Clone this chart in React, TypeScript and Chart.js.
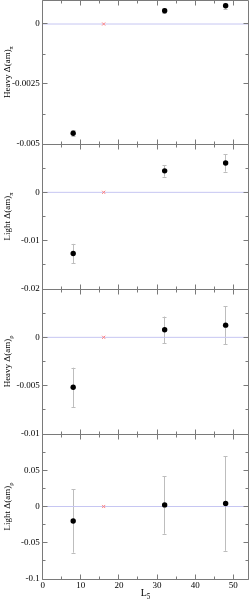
import React, { useEffect, useRef } from 'react';
import { Chart, registerables } from 'chart.js';

Chart.register(...registerables);

// ---------------- data ----------------
const lsValues = [8, 32, 48];
const referenceLs = [16];
const referenceValue = [0];

const heavyPiValues = [-0.00455, 0.00055, 0.00076];
const heavyPiErrors = [0.00012, 0.0001, 0.00012];

const lightPiValues = [-0.01267, 0.00444, 0.00608];
const lightPiErrors = [0.002, 0.0012, 0.0018];

const heavyRhoValues = [-0.00517, 0.00078, 0.00126];
const heavyRhoErrors = [0.00203, 0.00137, 0.00198];

const lightRhoValues = [-0.02, 0.0022, 0.0042];
const lightRhoErrors = [0.0437, 0.0398, 0.0653];

const xRange = [0, 54];
const xMajorTicks = [0, 10, 20, 30, 40, 50];
const xMinorTicks = [5, 15, 25, 35, 45];

const xTitleMain = 'L';
const xTitleSub = '5';

const panelDefs = [
  { titleMain: 'Heavy Δ(am)', titleSub: 'π', values: heavyPiValues, errors: heavyPiErrors, min: -0.005, max: 0.001, step: 0.0025 },
  { titleMain: 'Light Δ(am)', titleSub: 'π', values: lightPiValues, errors: lightPiErrors, min: -0.02, max: 0.01, step: 0.01 },
  { titleMain: 'Heavy Δ(am)', titleSub: 'ρ', values: heavyRhoValues, errors: heavyRhoErrors, min: -0.01, max: 0.005, step: 0.005 },
  { titleMain: 'Light Δ(am)', titleSub: 'ρ', values: lightRhoValues, errors: lightRhoErrors, min: -0.1, max: 0.1, step: 0.05 },
];

// ---------------- layout / style ----------------
const W = 249;
const H = 601;
const PLOT_LEFT = 42.7;
const PLOT_RIGHT = 248.5;
const PANEL_EDGES = [-1, 144, 289, 434, 579];
const X_AXIS_SPACE = 22;
const FONT = 'Liberation Serif';
const FRAME_COLOR = '#7a7a7a';
const ERR_COLOR = '#bdbdbd';
const ZERO_COLOR = '#c6c6f2';
const REF_COLOR = '#ff8080';

const fmt = (v: number) => String(Math.round(v * 1e6) / 1e6);

function drawSubText(ctx: CanvasRenderingContext2D, main: string, sub: string, cx: number, baseline: number, size: number) {
  ctx.font = `${size}px "${FONT}"`;
  const wMain = ctx.measureText(main).width;
  ctx.font = `${size * 0.72}px "${FONT}"`;
  const wSub = ctx.measureText(sub).width;
  const start = cx - (wMain + wSub) / 2;
  ctx.textAlign = 'left';
  ctx.textBaseline = 'alphabetic';
  ctx.fillStyle = '#000';
  ctx.font = `${size}px "${FONT}"`;
  ctx.fillText(main, start, baseline);
  ctx.font = `${size * 0.72}px "${FONT}"`;
  ctx.fillText(sub, start + wMain, baseline + size * 0.28);
}

function Panel({ index }: { index: number }) {
  const ref = useRef<HTMLCanvasElement | null>(null);
  useEffect(() => {
    const canvas = ref.current;
    if (!canvas) return;
    const def = panelDefs[index];
    const isLast = index === panelDefs.length - 1;
    const top = PANEL_EDGES[index];
    const bottom = PANEL_EDGES[index + 1];

    const decor = {
      id: 'decor' + index,
      beforeDatasetsDraw(chart: any) {
        const ctx = chart.ctx as CanvasRenderingContext2D;
        const xs = chart.scales.x;
        const ys = chart.scales.y;
        ctx.save();
        ctx.strokeStyle = ERR_COLOR;
        ctx.lineWidth = 1;
        lsValues.forEach((L, k) => {
          const px = Math.floor(xs.getPixelForValue(L)) + 0.5;
          const y1 = ys.getPixelForValue(def.values[k] + def.errors[k]);
          const y2 = ys.getPixelForValue(def.values[k] - def.errors[k]);
          ctx.beginPath();
          ctx.moveTo(px, y1);
          ctx.lineTo(px, y2);
          ctx.moveTo(px - 2, Math.round(y1) + 0.5);
          ctx.lineTo(px + 2, Math.round(y1) + 0.5);
          ctx.moveTo(px - 2, Math.round(y2) + 0.5);
          ctx.lineTo(px + 2, Math.round(y2) + 0.5);
          ctx.stroke();
        });
        ctx.restore();
      },
      afterDraw(chart: any) {
        const ctx = chart.ctx as CanvasRenderingContext2D;
        const { left, right, top: t, bottom: b } = chart.chartArea;
        const xs = chart.scales.x;
        const ys = chart.scales.y;
        const L = Math.floor(left) + 0.5;
        const R = Math.floor(right) + 0.5;
        const T = Math.floor(t) + 0.5;
        const B = Math.floor(b) + 0.5;
        ctx.save();
        ctx.strokeStyle = FRAME_COLOR;
        ctx.lineWidth = 1;
        ctx.beginPath();
        ctx.rect(L, T, R - L, B - T);
        const xTick = (v: number, len: number) => {
          const px = Math.floor(xs.getPixelForValue(v)) + 0.5;
          ctx.moveTo(px, B);
          ctx.lineTo(px, B - len);
          ctx.moveTo(px, T);
          ctx.lineTo(px, T + len);
        };
        xMajorTicks.forEach((v) => xTick(v, 5));
        xMinorTicks.forEach((v) => xTick(v, 3));
        const half = def.step / 2;
        const n0 = Math.ceil(def.min / half - 1e-9);
        const n1 = Math.floor(def.max / half + 1e-9);
        for (let n = n0; n <= n1; n++) {
          const v = n * half;
          const len = n % 2 === 0 ? 5 : 3;
          const py = Math.floor(ys.getPixelForValue(v)) + 0.5;
          ctx.moveTo(L, py);
          ctx.lineTo(L + len, py);
          ctx.moveTo(R, py);
          ctx.lineTo(R - len, py);
        }
        ctx.stroke();

        ctx.save();
        ctx.translate(0, (t + b) / 2);
        ctx.rotate(-Math.PI / 2);
        drawSubText(ctx, def.titleMain, def.titleSub, 0, 10, 9);
        ctx.restore();

        if (isLast) {
          drawSubText(ctx, xTitleMain, xTitleSub, (left + right) / 2, 596, 10);
        }
        ctx.restore();
      },
    };

    const tickFont = { family: FONT, size: 9 };
    const chart = new Chart(canvas, {
      type: 'scatter',
      data: {
        datasets: [
          {
            type: 'line',
            data: xRange.map((x) => ({ x, y: 0 })),
            borderColor: ZERO_COLOR,
            borderWidth: 1,
            pointRadius: 0,
            pointHoverRadius: 0,
            order: 3,
          } as any,
          {
            data: referenceLs.map((x, k) => ({ x, y: referenceValue[k] })),
            pointStyle: 'crossRot',
            pointRadius: 2.2,
            pointHoverRadius: 0,
            borderColor: REF_COLOR,
            backgroundColor: REF_COLOR,
            borderWidth: 1,
            order: 2,
          },
          {
            data: lsValues.map((x, k) => ({ x, y: def.values[k] })),
            pointStyle: 'circle',
            pointRadius: 2.7,
            pointHoverRadius: 0,
            borderWidth: 0,
            backgroundColor: '#000',
            borderColor: '#000',
            order: 1,
          },
        ],
      },
      options: {
        responsive: false,
        animation: false,
        events: [],
        layout: {
          autoPadding: false,
          padding: {
            left: 0,
            right: W - PLOT_RIGHT,
            top: top,
            bottom: H - bottom - (isLast ? X_AXIS_SPACE : 0),
          },
        },
        plugins: { legend: { display: false }, tooltip: { enabled: false } },
        scales: {
          x: {
            type: 'linear',
            min: xRange[0],
            max: xRange[1],
            display: isLast,
            grid: { display: false, drawTicks: false },
            border: { display: false },
            ticks: {
              stepSize: 10,
              includeBounds: false,
              autoSkip: false,
              maxRotation: 0,
              padding: 1,
              color: '#000',
              font: tickFont,
            },
            afterFit: (s: any) => {
              s.height = isLast ? X_AXIS_SPACE : 0;
              s.paddingLeft = 0;
              s.paddingRight = 0;
              s.paddingTop = 0;
              s.paddingBottom = 0;
            },
          },
          y: {
            type: 'linear',
            min: def.min,
            max: def.max,
            grid: { display: false, drawTicks: false },
            border: { display: false },
            ticks: {
              stepSize: def.step,
              includeBounds: false,
              autoSkip: false,
              padding: 3,
              color: '#000',
              font: tickFont,
              callback: (v: any) => (Math.abs(Number(v) - def.max) < 1e-9 ? '' : fmt(Number(v))),
            },
            afterFit: (s: any) => {
              s.width = PLOT_LEFT;
              s.paddingLeft = 0;
              s.paddingRight = 0;
              s.paddingTop = 0;
              s.paddingBottom = 0;
            },
          },
        },
      } as any,
      plugins: [decor],
    });
    return () => chart.destroy();
  }, [index]);
  return (
    <canvas
      ref={ref}
      width={W}
      height={H}
      style={{ position: 'absolute', left: 0, top: 0, width: W, height: H }}
    />
  );
}

export default function App() {
  return (
    <div style={{ position: 'fixed', left: 0, top: 0, width: W, height: H, background: '#fff', overflow: 'hidden' }}>
      {panelDefs.map((_, i) => (
        <Panel key={i} index={i} />
      ))}
    </div>
  );
}
